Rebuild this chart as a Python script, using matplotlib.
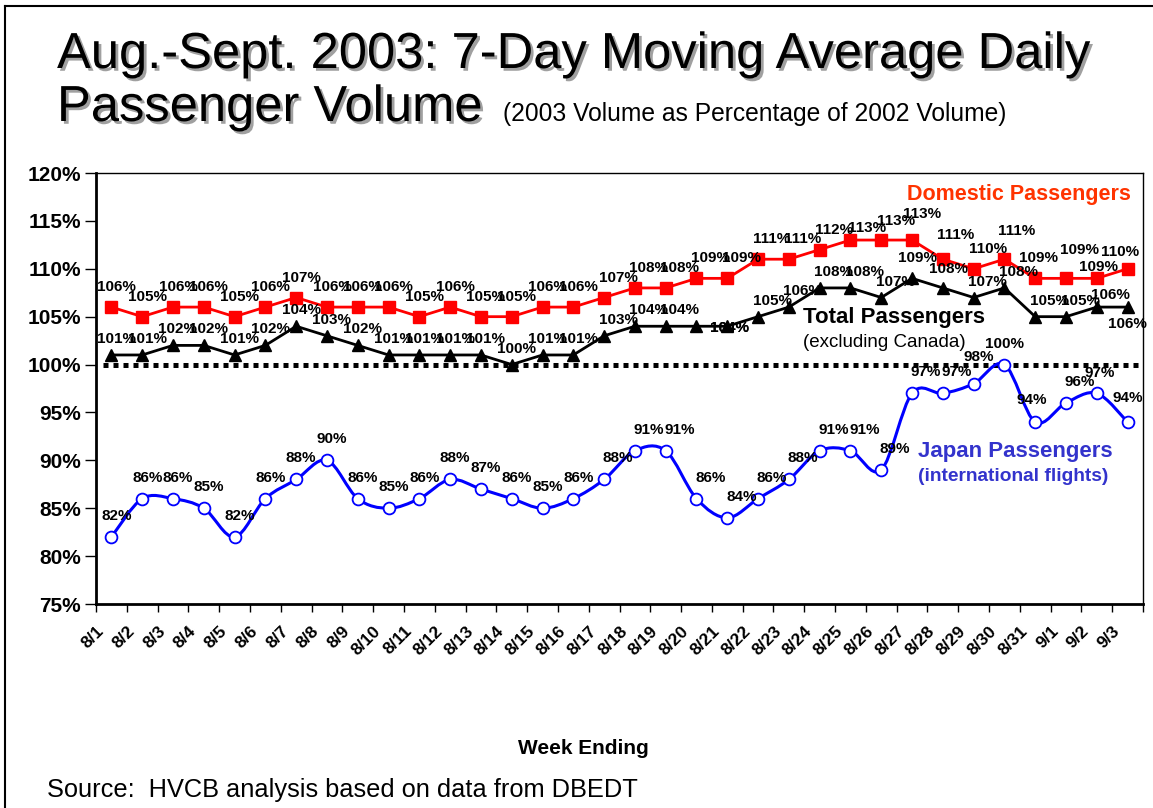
#!/usr/bin/env python3

import matplotlib
matplotlib.use("Agg")
import matplotlib.pyplot as plt
import matplotlib.patheffects as pe
from matplotlib.path import Path
from matplotlib.patches import PathPatch
from matplotlib.lines import Line2D
import numpy as np

days = ["8/1", "8/2", "8/3", "8/4", "8/5", "8/6", "8/7", "8/8", "8/9", "8/10",
        "8/11", "8/12", "8/13", "8/14", "8/15", "8/16", "8/17", "8/18", "8/19",
        "8/20", "8/21", "8/22", "8/23", "8/24", "8/25", "8/26", "8/27", "8/28",
        "8/29", "8/30", "8/31", "9/1", "9/2", "9/3"]
domestic = [106, 105, 106, 106, 105, 106, 107, 106, 106, 106, 105, 106, 105, 105,
            106, 106, 107, 108, 108, 109, 109, 111, 111, 112, 113, 113, 113, 111,
            110, 111, 109, 109, 109, 110]
total = [101, 101, 102, 102, 101, 102, 104, 103, 102, 101, 101, 101, 101, 100,
         101, 101, 103, 104, 104, 104, 104, 105, 106, 108, 108, 107, 109, 108,
         107, 108, 105, 105, 106, 106]
japan = [82, 86, 86, 85, 82, 86, 88, 90, 86, 85, 86, 88, 87, 86, 85, 86, 88, 91,
         91, 86, 84, 86, 88, 91, 91, 89, 97, 97, 98, 100, 94, 96, 97, 94]
yticks = [75, 80, 85, 90, 95, 100, 105, 110, 115, 120]

plt.rcParams['font.family'] = ['Liberation Sans', 'DejaVu Sans']


def smooth_path(x, y):
    # excel style smoothed line, bezier segments through the points
    n = len(x)
    verts = [(x[0], y[0])]
    codes = [Path.MOVETO]
    for i in range(n - 1):
        xp, yp = (x[i - 1], y[i - 1]) if i > 0 else (x[i], y[i])
        xn, yn = (x[i + 2], y[i + 2]) if i + 2 < n else (x[i + 1], y[i + 1])
        c1 = (x[i] + (x[i + 1] - xp) / 6, y[i] + (y[i + 1] - yp) / 6)
        c2 = (x[i + 1] - (xn - x[i]) / 6, y[i + 1] - (yn - y[i]) / 6)
        verts += [c1, c2, (x[i + 1], y[i + 1])]
        codes += [Path.CURVE4] * 3
    return Path(verts, codes)


def main():
    fig = plt.figure(figsize=(11.53, 8.08), dpi=100)
    W, H = 1153, 808
    ax = fig.add_axes([96 / W, 1 - 604 / H, 1047 / W, 431 / H])

    x = np.arange(len(days))

    ax.axhline(100, xmin=0.007, xmax=1, color='black', lw=3.6,
               linestyle=(0, (1, 1)), zorder=2)

    ax.plot(x, domestic, '-s', color='#FF0000', lw=2, markersize=8.5, zorder=3)
    ax.plot(x, total, '-^', color='black', lw=2, markersize=8.5, zorder=3)
    ax.add_patch(PathPatch(smooth_path(x, japan), fill=False,
                           edgecolor='#0000FF', lw=2.2, zorder=3))
    ax.plot(x, japan, 'o', linestyle='none', markerfacecolor='white',
            markeredgecolor='#0000FF', markeredgewidth=1.3, markersize=8.5,
            zorder=4)

    # data labels: default offset per series (pixels), some were moved by hand
    base = {"d": (5, 20), "t": (5, 16), "j": (5, 21)}
    moves = {("t", 19): (33, -2), ("t", 20): (2, -2), ("t", 32): (14, 12),
             ("t", 33): (0, -17), ("t", 26): (5, 20), ("t", 27): (6, 19),
             ("d", 24): (17, 12), ("d", 25): (15, 19), ("d", 26): (10, 26),
             ("d", 27): (13, 24), ("d", 29): (12, 28), ("d", 30): (3, 20),
             ("d", 31): (13, 28), ("d", 32): (2, 11), ("d", 33): (-8, 17),
             ("j", 28): (5, 27), ("j", 29): (0, 21), ("j", 32): (3, 20),
             ("j", 33): (0, 24), ("j", 30): (-3, 22)}
    # these labels sit under a marker or the 100% line in the original
    hidden = {("t", 19), ("t", 20), ("j", 32)}
    for key, vals in (("d", domestic), ("t", total), ("j", japan)):
        for i, v in enumerate(vals):
            dx, dy = base[key]
            if i >= 16:
                dx += 9
            dx, dy = moves.get((key, i), (dx, dy))
            z = 1.5 if (key, i) in hidden else 5
            ax.annotate(f"{v}%", (i, v), xytext=(dx, dy),
                        textcoords='offset pixels', ha='center', va='center',
                        fontsize=11, fontweight='bold', zorder=z)

    ax.text(0.988, 0.951, "Domestic Passengers", transform=ax.transAxes,
            ha='right', va='center', fontsize=15.5, fontweight='bold',
            color='#FF3300')
    ax.text(0.762, 0.664, "Total Passengers", transform=ax.transAxes,
            ha='center', va='center', fontsize=16, fontweight='bold', zorder=6)
    ax.text(0.753, 0.606, "(excluding Canada)", transform=ax.transAxes,
            ha='center', va='center', fontsize=13.5)
    ax.text(0.785, 0.353, "Japan Passengers", transform=ax.transAxes,
            ha='left', va='center', fontsize=16, fontweight='bold',
            color='#3333CC')
    ax.text(0.785, 0.295, "(international flights)", transform=ax.transAxes,
            ha='left', va='center', fontsize=13.8, fontweight='bold',
            color='#3333CC')

    ax.set_xlim(-0.5, len(days) - 0.5)
    ax.set_ylim(75, 120)
    ax.set_yticks(yticks)
    ax.set_yticklabels([f"{t}%" for t in yticks], fontsize=15,
                       fontweight='bold')
    # tick marks sit on the category borders, labels end at the left border
    ax.set_xticks(np.arange(len(days) + 1) - 0.5)
    ax.set_xticklabels(days + [""], rotation=45, ha='right',
                       rotation_mode='anchor', fontsize=12.5, fontweight='bold')
    ax.tick_params(axis='y', length=8, width=1, pad=3)
    ax.tick_params(axis='x', length=6, width=1, pad=8)
    for side in ('left', 'bottom'):
        ax.spines[side].set_linewidth(2)
    for side in ('top', 'right'):
        ax.spines[side].set_linewidth(1)

    shadow = [pe.SimplePatchShadow(offset=(2, -2), shadow_rgbFace='#888888',
                                   alpha=0.8), pe.Normal()]
    fig.text(57 / W, 1 - 68 / H, "Aug.-Sept. 2003: 7-Day Moving Average Daily",
             fontsize=36.5, va='baseline', path_effects=shadow)
    fig.text(57 / W, 1 - 121 / H, "Passenger Volume", fontsize=36.5,
             va='baseline', path_effects=shadow)
    fig.text(503 / W, 1 - 121 / H, "(2003 Volume as Percentage of 2002 Volume)",
             fontsize=17.7, va='baseline')
    fig.text(583 / W, 1 - 748 / H, "Week Ending", fontsize=15,
             fontweight='bold', ha='center', va='center')
    fig.text(47 / W, 1 - 790 / H, "Source:  HVCB analysis based on data from DBEDT",
             fontsize=18.3, va='center')

    fig.add_artist(Line2D([5 / W, 1], [1 - 6 / H] * 2, color='black', lw=1.5))
    fig.add_artist(Line2D([5 / W] * 2, [0, 1 - 6 / H], color='black', lw=1.5))

    fig.savefig('out.png', dpi=100)


if __name__ == "__main__":
    main()
